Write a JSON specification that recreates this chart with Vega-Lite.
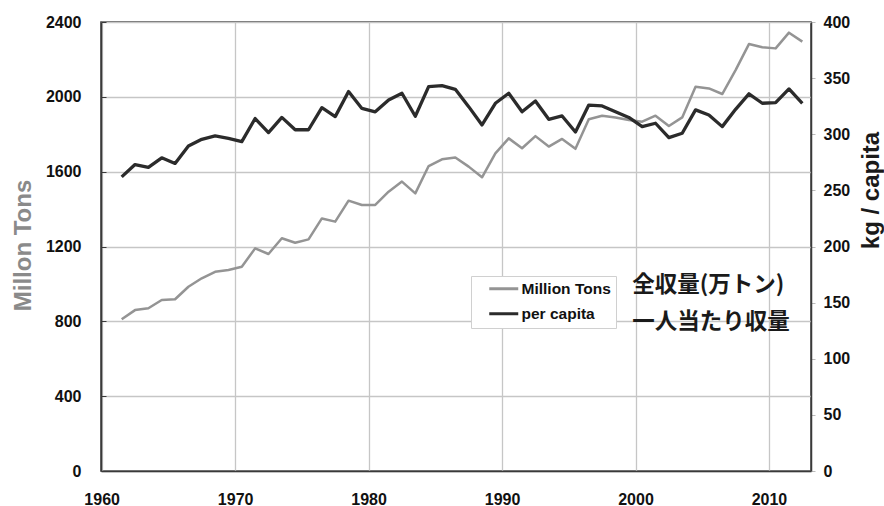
{
  "$schema": "https://vega.github.io/schema/vega-lite/v6.json",
  "width": 710,
  "height": 449,
  "autosize": {"type": "none"},
  "padding": {"left": 101, "top": 22, "right": 73, "bottom": 35},
  "background": "white",
  "config": {
    "font": "Liberation Sans",
    "view": {"stroke": "#3a3a3a", "strokeWidth": 1.5},
    "axis": {
      "labelFont": "Liberation Sans",
      "labelFontWeight": "bold",
      "labelFontSize": 16,
      "labelColor": "#111111",
      "titleFont": "Liberation Sans",
      "titleFontWeight": "bold",
      "titleFontSize": 24,
      "gridColor": "#c6c6c6",
      "gridWidth": 1.3,
      "domainColor": "#3a3a3a",
      "domainWidth": 1.5,
      "tickColor": "#3a3a3a",
      "labelOverlap": false,
      "labelFlush": false
    }
  },
  "datasets": {
    "harvest": [
      {"year": 1961, "tons": 811, "kg": 262},
      {"year": 1962, "tons": 860, "kg": 273},
      {"year": 1963, "tons": 870, "kg": 270.5},
      {"year": 1964, "tons": 914, "kg": 279},
      {"year": 1965, "tons": 918, "kg": 274},
      {"year": 1966, "tons": 985, "kg": 289.6},
      {"year": 1967, "tons": 1030, "kg": 295.5},
      {"year": 1968, "tons": 1065, "kg": 298.5},
      {"year": 1969, "tons": 1074, "kg": 296.4},
      {"year": 1970, "tons": 1092, "kg": 293.4},
      {"year": 1971, "tons": 1190, "kg": 314},
      {"year": 1972, "tons": 1160, "kg": 301.5},
      {"year": 1973, "tons": 1244, "kg": 315},
      {"year": 1974, "tons": 1220, "kg": 304},
      {"year": 1975, "tons": 1238, "kg": 304},
      {"year": 1976, "tons": 1350, "kg": 323.7},
      {"year": 1977, "tons": 1333, "kg": 315.7},
      {"year": 1978, "tons": 1445, "kg": 338},
      {"year": 1979, "tons": 1422, "kg": 323},
      {"year": 1980, "tons": 1422, "kg": 320},
      {"year": 1981, "tons": 1493, "kg": 330.6},
      {"year": 1982, "tons": 1547, "kg": 336.5},
      {"year": 1983, "tons": 1484, "kg": 316},
      {"year": 1984, "tons": 1630, "kg": 342.4},
      {"year": 1985, "tons": 1666, "kg": 343.3},
      {"year": 1986, "tons": 1676, "kg": 340},
      {"year": 1987, "tons": 1627, "kg": 324.6},
      {"year": 1988, "tons": 1570, "kg": 308.3},
      {"year": 1989, "tons": 1698, "kg": 327.6},
      {"year": 1990, "tons": 1778, "kg": 336.5},
      {"year": 1991, "tons": 1725, "kg": 320},
      {"year": 1992, "tons": 1790, "kg": 329.7},
      {"year": 1993, "tons": 1734, "kg": 313.3},
      {"year": 1994, "tons": 1775, "kg": 316.3},
      {"year": 1995, "tons": 1722, "kg": 302},
      {"year": 1996, "tons": 1880, "kg": 326},
      {"year": 1997, "tons": 1899, "kg": 325.2},
      {"year": 1998, "tons": 1890, "kg": 320},
      {"year": 1999, "tons": 1876, "kg": 315},
      {"year": 2000, "tons": 1867, "kg": 306.8},
      {"year": 2001, "tons": 1899, "kg": 309.8},
      {"year": 2002, "tons": 1844, "kg": 297},
      {"year": 2003, "tons": 1890, "kg": 300.9},
      {"year": 2004, "tons": 2054, "kg": 321.7},
      {"year": 2005, "tons": 2045, "kg": 317.2},
      {"year": 2006, "tons": 2015, "kg": 306.8},
      {"year": 2007, "tons": 2143, "kg": 322.2},
      {"year": 2008, "tons": 2282, "kg": 336},
      {"year": 2009, "tons": 2265, "kg": 327.6},
      {"year": 2010, "tons": 2259, "kg": 328.2},
      {"year": 2011, "tons": 2343, "kg": 340.4},
      {"year": 2012, "tons": 2295, "kg": 327.6}
    ],
    "notes": [
      {"label": "全収量(万トン)", "line": 1},
      {"label": "一人当たり収量", "line": 2}
    ]
  },
  "layer": [
    {
      "layer": [
        {
          "data": {"name": "harvest"},
          "mark": {"type": "line", "strokeWidth": 2.5, "strokeJoin": "round"},
          "encoding": {
            "x": {
              "field": "year",
              "type": "quantitative",
              "scale": {"domain": [1959.45, 2012.65], "nice": false, "zero": false},
              "axis": {
                "title": null,
                "values": [1959.5, 1969.5, 1979.5, 1989.5, 1999.5, 2009.5],
                "labelExpr": "format(datum.value + 0.5, 'd')",
                "labelDx": 7,
                "ticks": false,
                "labelPadding": 20,
                "grid": true
              }
            },
            "y": {
              "field": "tons",
              "type": "quantitative",
              "scale": {"domain": [0, 2400], "nice": false},
              "axis": {
                "orient": "left",
                "format": "d",
                "values": [0, 100, 200, 300, 400, 500, 600, 700, 800, 900, 1000, 1100, 1200, 1300, 1400, 1500, 1600, 1700, 1800, 1900, 2000, 2100, 2200, 2300, 2400],
                "labelExpr": "datum.value % 400 === 0 ? datum.label : ''",
                "tickSize": -5,
                "labelPadding": 25,
                "gridOpacity": {"condition": {"test": "datum.value % 400 === 0", "value": 1}, "value": 0},
                "title": "Millon Tons",
                "titleColor": "#8a8a8a",
                "titleAngle": 270,
                "titleX": -78,
                "titleY": 223,
                "titleAlign": "center",
                "titleBaseline": "middle"
              }
            },
            "color": {
              "datum": "Million Tons",
              "type": "nominal",
              "scale": {"domain": ["Million Tons", "per capita"], "range": ["#949494", "#2b2b2b"]},
              "legend": {
                "orient": "none",
                "legendX": 370,
                "legendY": 254,
                "title": null,
                "fillColor": "white",
                "strokeColor": "#d0d0d0",
                "padding": 5,
                "labelFont": "Liberation Sans",
                "labelFontSize": 15.5,
                "labelFontWeight": "bold",
                "labelColor": "#111111",
                "symbolType": "M-2.9,0H2.9",
                "symbolSize": 100,
                "symbolStrokeWidth": 3,
                "symbolOffset": 20,
                "labelOffset": 10,
                "rowPadding": 8
              }
            }
          }
        },
        {
          "data": {"name": "notes"},
          "transform": [{"filter": "datum.line === 1"}],
          "mark": {"type": "text", "align": "left", "baseline": "middle", "font": "Noto Sans CJK JP", "fontWeight": "bold", "fontSize": 22.5, "fill": "#1a1a1a"},
          "encoding": {
            "x": {"datum": 1999.25, "type": "quantitative"},
            "y": {"datum": 994, "type": "quantitative"},
            "text": {"field": "label", "type": "nominal"}
          }
        },
        {
          "data": {"name": "notes"},
          "transform": [{"filter": "datum.line === 2"}],
          "mark": {"type": "text", "align": "left", "baseline": "middle", "font": "Noto Sans CJK JP", "fontWeight": "bold", "fontSize": 22.5, "fill": "#1a1a1a"},
          "encoding": {
            "x": {"datum": 1999.25, "type": "quantitative"},
            "y": {"datum": 796, "type": "quantitative"},
            "text": {"field": "label", "type": "nominal"}
          }
        }
      ]
    },
    {
      "data": {"name": "harvest"},
      "mark": {"type": "line", "strokeWidth": 3.3, "strokeJoin": "round"},
      "encoding": {
        "x": {"field": "year", "type": "quantitative"},
        "y": {
          "field": "kg",
          "type": "quantitative",
          "scale": {"domain": [0, 400], "nice": false},
          "axis": {
            "orient": "right",
            "values": [0, 50, 100, 150, 200, 250, 300, 350, 400],
            "grid": false,
            "tickSize": 4,
            "tickColor": "#bbbbbb",
            "labelPadding": 8,
            "title": "kg / capita",
            "titleColor": "#1a1a1a",
            "titleAngle": 270,
            "titleX": 60,
            "titleY": 168,
            "titleAlign": "center",
            "titleBaseline": "middle"
          }
        },
        "color": {"datum": "per capita", "type": "nominal"}
      }
    }
  ],
  "resolve": {"scale": {"y": "independent"}}
}
